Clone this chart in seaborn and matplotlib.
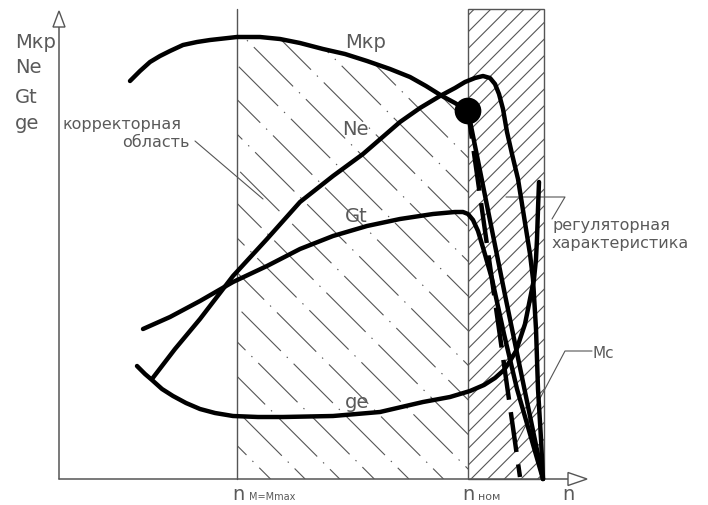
import numpy as np
import matplotlib
matplotlib.use("Agg")
import matplotlib.pyplot as plt
from matplotlib.patches import Rectangle, Polygon
import seaborn as sns

sns.set_theme(style="white")
plt.rcParams["font.family"] = ["DejaVu Sans"]
plt.rcParams["hatch.linewidth"] = 0.8
plt.rcParams["lines.scale_dashes"] = False

# Engine speed n (origin at the axes corner) and characteristic values
mkp_n = [71, 81, 91, 101, 111, 124, 138, 151, 178, 201, 221, 241, 264, 286,
         308, 331, 351, 367, 383, 396, 409, 446, 484]
mkp_v = [398, 408, 417, 423, 428, 434, 437, 439, 442, 442, 440, 436, 430, 425,
         418, 410, 402, 393, 383, 376, 368, 184, 0]

ne_n = [93, 116, 141, 174, 208, 241, 274, 304, 341, 361, 381, 396, 406, 416,
        424, 431, 436, 440, 444, 448, 453, 459, 463, 467, 471, 474, 477, 479,
        482, 484]
ne_v = [100, 130, 160, 203, 240, 277, 303, 325, 357, 371, 383, 391, 397, 401,
        403, 401, 395, 385, 370, 347, 325, 300, 275, 250, 225, 200, 150, 90,
        40, 0]

gt_n = [84, 111, 141, 174, 208, 241, 274, 308, 341, 374, 396, 404, 409, 414,
        419, 425, 433, 445, 458, 471, 484]
gt_v = [150, 162, 178, 197, 213, 230, 243, 253, 260, 265, 267, 267, 265, 259,
        248, 228, 200, 145, 90, 45, 0]

ge_n = [78, 86, 93, 103, 114, 127, 141, 156, 174, 199, 224, 274, 321, 364,
        391, 411, 425, 436, 445, 451, 457, 461, 466, 469, 472, 475, 477, 478,
        479, 480]
ge_v = [113, 105, 99, 90, 83, 76, 70, 66, 63, 62, 62, 63, 67, 77, 82, 88, 94,
        101, 109, 118, 128, 140, 155, 170, 185, 200, 220, 240, 270, 297]

# Resistance torque line from the nominal point
mc_n = [409, 461]
mc_v = [368, 2]

# Nominal point (Mкр at n_ном)
nom_n = [409]
nom_v = [368]

# Speed marks
n_mmax = 178
n_nom = 409
n_max = 485
top = 470

GRAY = "#555555"
TXT = "#5a5a5a"

fig = plt.figure(figsize=(7.08, 5.06), dpi=100)
ax = fig.add_axes([0, 0, 1, 1])
ax.set_xlim(-59, 649)
ax.set_ylim(-26, 480)
ax.axis("off")

# Axes with open arrow heads
ax.plot([0, 0], [0, 452], color=GRAY, lw=1.1, zorder=2)
ax.plot([0, 509], [0, 0], color=GRAY, lw=1.1, zorder=2)
ax.add_patch(Polygon([[-6, 452], [0, 468], [6, 452]], closed=True,
                     facecolor="white", edgecolor=GRAY, lw=1.0, zorder=3))
ax.add_patch(Polygon([[509, 6.5], [528, 0], [509, -6.5]], closed=True,
                     facecolor="white", edgecolor=GRAY, lw=1.0, zorder=3))

# Speed at maximum torque
ax.plot([n_mmax, n_mmax], [0, top], color=GRAY, lw=1.0, zorder=2)

# Regulator zone
ax.add_patch(Rectangle((n_nom, 0), n_max - n_nom, top, fill=False, hatch="//",
                       edgecolor=GRAY, lw=1.0, zorder=1))

# Corrector zone: sparse dash-dot hatching below the torque curve
xs = np.linspace(n_mmax, n_nom, 120)
upper = np.interp(xs, mkp_n, mkp_v)
verts = [[n_mmax, 0]] + [[x, y] for x, y in zip(xs, upper)] + [[n_nom, 0]]
zone = Polygon(verts, closed=True, facecolor="none", edgecolor="none")
ax.add_patch(zone)
step = 34.6
for k in range(-2, 17):
    c = 211.5 + step * k
    hx = np.array([c - 480, c])
    ln, = ax.plot(hx, c - hx, color=GRAY, lw=0.8, zorder=1,
                  linestyle=((k * 17) % 50, (40, 6, 1, 6)))
    ln.set_clip_path(zone)

# Characteristic curves
for n_vals, v_vals in [(mkp_n, mkp_v), (ne_n, ne_v), (gt_n, gt_v), (ge_n, ge_v)]:
    sns.lineplot(x=n_vals, y=v_vals, sort=False, estimator=None, color="black",
                 lw=3.2, solid_capstyle="round", ax=ax, zorder=4)

sns.lineplot(x=mc_n, y=mc_v, sort=False, estimator=None, color="black",
             lw=3.2, linestyle=(9, (29, 9)), ax=ax, zorder=4)

sns.scatterplot(x=nom_n, y=nom_v, s=370, color="black", edgecolor="none",
                ax=ax, zorder=6)

# Leader lines
ax.plot([136, 204], [338, 280], color=GRAY, lw=0.8, zorder=3)
ax.plot([447, 506, 493], [282, 282, 260], color=GRAY, lw=0.8, zorder=3)
ax.plot([533, 506, 458], [128, 128, 37], color=GRAY, lw=0.8, zorder=3)

# Labels
big = 14
for label, y in [("Мкр", 432), ("Ne", 407), ("Gt", 377), ("ge", 351)]:
    ax.text(-44, y, label, fontsize=big, color=TXT, va="baseline", ha="left")

ax.text(286, 432, "Мкр", fontsize=big, color=TXT, va="baseline")
ax.text(283, 345, "Ne", fontsize=big, color=TXT, va="baseline")
ax.text(286, 258, "Gt", fontsize=big, color=TXT, va="baseline")
ax.text(286, 72, "ge", fontsize=big, color=TXT, va="baseline")

ax.text(4, 351, "корректорная", fontsize=11.5, color=TXT, va="baseline")
ax.text(63, 333, "область", fontsize=11.5, color=TXT, va="baseline")
ax.text(493, 250, "регуляторная", fontsize=11.5, color=TXT, va="baseline")
ax.text(493, 232, "характеристика", fontsize=11.5, color=TXT, va="baseline")
ax.text(533, 122, "Мс", fontsize=11, color=TXT, va="baseline")

ax.text(173, -20, "n", fontsize=big, color=TXT, va="baseline")
ax.text(190, -20, "M=Mmax", fontsize=7, color=TXT, va="baseline")
ax.text(403, -20, "n", fontsize=big, color=TXT, va="baseline")
ax.text(419, -20, "ном", fontsize=8, color=TXT, va="baseline")
ax.text(503, -20, "n", fontsize=big, color=TXT, va="baseline")

fig.savefig("out.png", dpi=100, facecolor="white")
